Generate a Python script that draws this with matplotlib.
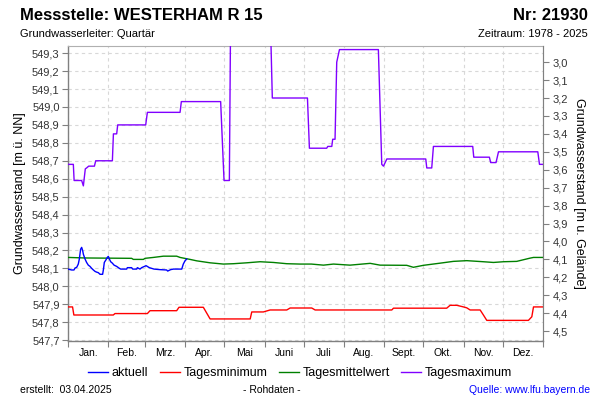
import matplotlib
matplotlib.use("Agg")
import matplotlib.pyplot as plt
from matplotlib.ticker import FuncFormatter, FixedLocator, NullFormatter
import numpy as np

plt.rcParams['font.family'] = ['Liberation Sans', 'DejaVu Sans']

# ---------------- data ----------------
months = ["Jan.", "Feb.", "Mrz.", "Apr.", "Mai", "Juni", "Juli", "Aug.", "Sept.", "Okt.", "Nov.", "Dez."]
month_starts = [0, 31, 59, 90, 120, 151, 181, 212, 243, 273, 304, 334, 365]

ground_level = 552.25  # m ü. NN, for right axis (m u. Gelände)

max_days = [0, 4.1, 4.7, 10.5, 11.8, 13.3, 14.3, 15.9, 20.3, 21.3, 34.1, 34.9, 37.4, 38.2, 59.7, 61.0,
            86.1, 87.1, 117.3, 119.9, 124.0, 125.0, 155.3, 157.0, 184.0, 185.5, 198.8, 199.6,
            202.7, 203.4, 205.2, 206.5, 208.6, 238.5, 241.1, 242.4, 245.0, 274.9, 275.7, 279.5,
            280.8, 311.0, 311.8, 323.8, 324.8, 328.9, 330.8, 361.0, 362.3, 365]
max_vals = [548.68, 548.68, 548.59, 548.59, 548.56, 548.655, 548.66, 548.67, 548.67, 548.70, 548.70, 548.85,
            548.85, 548.90, 548.90, 548.97, 548.97, 549.03, 549.03, 548.59, 548.59, 549.55, 549.55,
            549.05, 549.05, 548.77, 548.77, 548.78, 548.78, 548.82, 548.82, 549.25, 549.32, 549.32,
            548.68, 548.67, 548.71, 548.71, 548.66, 548.66, 548.78, 548.78, 548.72, 548.72, 548.69,
            548.69, 548.75, 548.75, 548.68, 548.68]

min_days = [0, 3.5, 4.5, 34.8, 36.1, 61.0, 63.0, 83.5, 85.3, 104.0, 109.2, 140.0, 141.2, 150.1,
            155.3, 168.1, 170.7, 187.3, 189.9, 248.8, 250.1, 291.0, 293.6, 298.8, 303.9, 306.4,
            309.0, 316.7, 319.2, 321.8, 353.8, 356.4, 357.7, 365]
min_vals = [547.885, 547.885, 547.84, 547.84, 547.848, 547.848, 547.864, 547.864, 547.883, 547.883,
            547.818, 547.818, 547.857, 547.857, 547.868, 547.868, 547.879, 547.879, 547.868, 547.868,
            547.878, 547.878, 547.894, 547.894, 547.885, 547.88, 547.868, 547.868, 547.84, 547.81,
            547.81, 547.83, 547.885, 547.885]

mean_days = [0, 13.1, 48.9, 50.2, 57.9, 59.2, 65.6, 73.3, 83.5, 86.1, 93.8, 98.9, 109.2, 119.4,
             127.1, 137.3, 147.6, 152.7, 157.8, 168.1, 178.4, 187.0, 196.3, 204.0, 216.7, 232.2,
             239.8, 260.3, 265.4, 273.1, 285.9, 296.1, 306.4, 319.2, 326.9, 334.6, 344.8, 355.0,
             357.7, 365]
mean_vals = [548.161, 548.158, 548.156, 548.150, 548.150, 548.156, 548.161, 548.168, 548.168, 548.161,
             548.150, 548.142, 548.131, 548.124, 548.126, 548.131, 548.137, 548.135, 548.133, 548.126,
             548.124, 548.124, 548.118, 548.124, 548.118, 548.128, 548.118, 548.117, 548.106, 548.117,
             548.129, 548.139, 548.143, 548.137, 548.133, 548.137, 548.139, 548.157, 548.161, 548.161]

act_days = [0, 2.8, 4.6, 5.4, 6.7, 7.9, 8.7, 9.7, 10.5, 11.3, 11.8, 13.1, 14.3, 15.6, 16.9, 18.2,
            19.5, 20.8, 22.0, 23.3, 24.6, 26.6, 27.2, 27.9, 29.2, 30.2, 31.0, 31.8, 32.8, 34.1,
            35.4, 37.4, 39.5, 40.5, 45.1, 45.6, 48.9, 49.7, 52.8, 53.3, 55.3, 56.6, 60.0, 62.5,
            66.1, 70.7, 75.8, 76.6, 78.9, 81.0, 87.4, 88.6, 89.9, 91.2]
act_vals = [548.096, 548.091, 548.091, 548.102, 548.106, 548.124, 548.152, 548.207, 548.217, 548.198,
            548.179, 548.152, 548.133, 548.118, 548.111, 548.100, 548.091, 548.083, 548.079, 548.076,
            548.067, 548.067, 548.093, 548.133, 548.148, 548.161, 548.167, 548.152, 548.137, 548.129,
            548.118, 548.111, 548.100, 548.096, 548.096, 548.104, 548.104, 548.096, 548.096, 548.104,
            548.096, 548.104, 548.115, 548.104, 548.096, 548.093, 548.091, 548.085, 548.093, 548.096,
            548.096, 548.124, 548.142, 548.152]

# ---------------- figure ----------------
fig = plt.figure(figsize=(6, 4), dpi=100)
ax = fig.add_axes([68/600, 1-341/400, (543-68)/600, (341-46)/400])

c_act, c_min, c_mean, c_max = '#0000ff', '#ff0000', '#008000', '#8000ff'
lw = 1.0
ax.plot(min_days, min_vals, color=c_min, lw=lw, label='Tagesminimum', zorder=3)
ax.plot(mean_days, mean_vals, color=c_mean, lw=lw, label='Tagesmittelwert', zorder=3)
ax.plot(max_days, max_vals, color=c_max, lw=lw, label='Tagesmaximum', zorder=3)
ax.plot(act_days, act_vals, color=c_act, lw=lw, label='aktuell', zorder=4)

ymin, ymax = 547.695, 549.34
ax.set_xlim(0, 365)
ax.set_ylim(ymin, ymax)

yt = np.round(np.arange(547.7, 549.301, 0.1), 1)
ax.yaxis.set_major_locator(FixedLocator(yt))
ax.yaxis.set_major_formatter(FuncFormatter(lambda v, p: f"{v:.1f}".replace('.', ',')))
ax.xaxis.set_major_locator(FixedLocator(month_starts))
ax.xaxis.set_major_formatter(NullFormatter())
mids = [(month_starts[i] + month_starts[i+1]) / 2 for i in range(12)]
ax.xaxis.set_minor_locator(FixedLocator(mids))
ax.set_xticklabels(months, minor=True)
ax.tick_params(axis='x', which='minor', length=0, labelsize=7.5, pad=5)
ax.tick_params(axis='x', which='major', length=4, color='#808080', direction='out')
ax.tick_params(axis='y', length=4, color='#808080', direction='out', labelsize=8, pad=2,
               labelcolor='#333333')

ax.grid(True, which='major', color='#d8d8d8', linestyle=(0, (3, 3)), linewidth=0.8)
ax.set_axisbelow(True)
for s in ['top', 'right']:
    ax.spines[s].set_color('#b0b0b0')
for s in ['left', 'bottom']:
    ax.spines[s].set_color('#808080')
    ax.spines[s].set_linewidth(1.0)

ax.set_ylabel('Grundwasserstand [m ü. NN]', fontsize=9, labelpad=4)

# right axis (m u. Gelände)
ax2 = ax.twinx()
ax2.set_ylim(ground_level - ymin, ground_level - ymax)
rt = np.round(np.arange(3.0, 4.501, 0.1), 1)
ax2.yaxis.set_major_locator(FixedLocator(rt))
ax2.yaxis.set_major_formatter(FuncFormatter(lambda v, p: f"{v:.1f}".replace('.', ',')))
ax2.tick_params(axis='y', length=4, color='#808080', direction='out', labelsize=8, pad=3,
                labelcolor='#333333')
ax2.spines['right'].set_color('#808080')
ax2.spines['top'].set_visible(False)
ax2.spines['left'].set_visible(False)
ax2.spines['bottom'].set_visible(False)
ax2.set_ylabel('Grundwasserstand [m u. Gelände]', fontsize=9, rotation=-90, labelpad=12)

# titles
fig.text(20/600, 1-16/400, 'Messstelle: WESTERHAM R 15', fontsize=12, fontweight='bold',
         ha='left', va='center')
fig.text(588/600, 1-16/400, 'Nr: 21930', fontsize=12, fontweight='bold', ha='right', va='center')
fig.text(20/600, 1-34/400, 'Grundwasserleiter: Quartär', fontsize=8, ha='left', va='center')
fig.text(588/600, 1-34/400, 'Zeitraum: 1978 - 2025', fontsize=8, ha='right', va='center')

# legend
handles, labels = ax.get_legend_handles_labels()
order = [3, 0, 1, 2]
fig.legend([handles[i] for i in order], [labels[i] for i in order], loc='center',
           bbox_to_anchor=(300/600, 1-373/400), ncol=4, frameon=False, fontsize=9,
           handlelength=1.6, handletextpad=0.3, columnspacing=0.9, borderaxespad=0)

# footer
fig.text(20/600, 1-390/400, 'erstellt:  03.04.2025', fontsize=7.5, ha='left', va='center')
fig.text(272/600, 1-390/400, '- Rohdaten -', fontsize=7.5, ha='center', va='center')
fig.text(590/600, 1-390/400, 'Quelle: www.lfu.bayern.de', fontsize=7.5, ha='right', va='center',
         color='#0000ff')

fig.savefig('out.png', dpi=100)
